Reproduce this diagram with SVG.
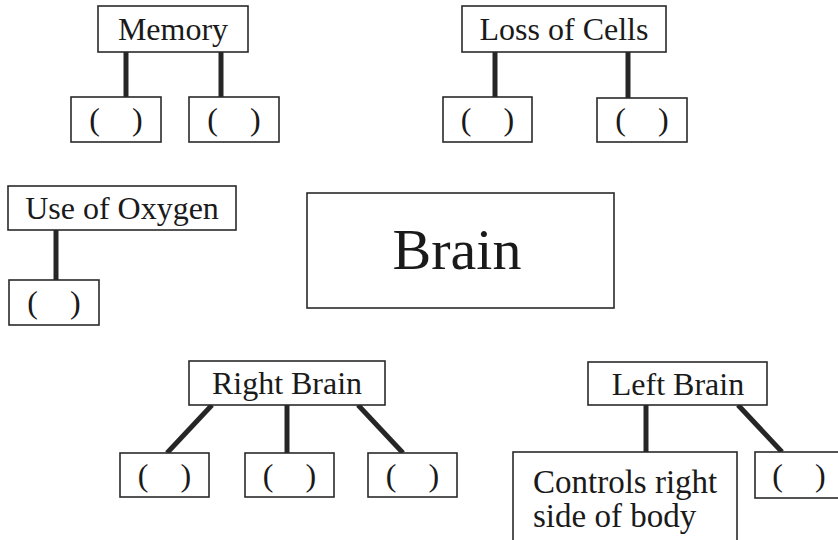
<svg xmlns="http://www.w3.org/2000/svg" width="838" height="540" viewBox="0 0 838 540">
<style>
rect.b{fill:#fff;stroke:#2a2a2a;stroke-width:1.6}
text{font-family:"Liberation Serif","DejaVu Serif",serif;font-size:32px;fill:#1a1a1a;text-anchor:middle}
text.p{white-space:pre}
text.big{font-size:58px}
text.l{text-anchor:start;font-size:33px}
#connectors line{stroke:#262626;stroke-width:5;stroke-linecap:butt}
</style>
<rect width="838" height="540" fill="#fff"/>
<g id="connectors">
<line x1="126" y1="52" x2="126" y2="97"/>
<line x1="221" y1="52" x2="221" y2="97"/>
<line x1="495" y1="52" x2="495" y2="97"/>
<line x1="628" y1="52" x2="628" y2="98"/>
<line x1="56" y1="230" x2="56" y2="280"/>
<line x1="212" y1="405" x2="167" y2="453"/>
<line x1="287" y1="405" x2="287" y2="453"/>
<line x1="358" y1="405" x2="403" y2="453"/>
<line x1="646" y1="405" x2="646" y2="452"/>
<line x1="738" y1="405" x2="782" y2="452"/>
</g>
<g id="memory"><rect class="b" x="98" y="6" width="150" height="46"/><text x="173" y="40">Memory</text></g>
<g id="memory-1"><rect class="b" x="71" y="97" width="90" height="45"/><text class="p" x="116" y="130">(    )</text></g>
<g id="memory-2"><rect class="b" x="189" y="97" width="90" height="45"/><text class="p" x="234" y="130">(    )</text></g>
<g id="loss"><rect class="b" x="462" y="6" width="204" height="46"/><text x="564" y="40">Loss of Cells</text></g>
<g id="loss-1"><rect class="b" x="443" y="97" width="89" height="45"/><text class="p" x="487.5" y="130">(    )</text></g>
<g id="loss-2"><rect class="b" x="597" y="98" width="90" height="44"/><text class="p" x="642" y="130">(    )</text></g>
<g id="oxygen"><rect class="b" x="8" y="186" width="228" height="44"/><text x="122" y="219">Use of Oxygen</text></g>
<g id="oxygen-1"><rect class="b" x="9" y="280" width="90" height="45"/><text class="p" x="54" y="313">(    )</text></g>
<g id="brain"><rect class="b" x="307" y="193" width="307" height="115"/><text class="big" x="457" y="269">Brain</text></g>
<g id="right"><rect class="b" x="189" y="361" width="196" height="44"/><text x="287" y="394">Right Brain</text></g>
<g id="right-1"><rect class="b" x="120" y="453" width="89" height="44"/><text class="p" x="164.5" y="486">(    )</text></g>
<g id="right-2"><rect class="b" x="245" y="453" width="89" height="44"/><text class="p" x="289.5" y="486">(    )</text></g>
<g id="right-3"><rect class="b" x="368" y="453" width="89" height="44"/><text class="p" x="412.5" y="486">(    )</text></g>
<g id="left"><rect class="b" x="588" y="362" width="179" height="43"/><text x="678" y="395">Left Brain</text></g>
<g id="left-1"><rect class="b" x="513" y="452" width="224" height="100"/><text class="l" x="533" y="493">Controls right</text><text class="l" x="533" y="527">side of body</text></g>
<g id="left-2"><rect class="b" x="755" y="452" width="95" height="46"/><text class="p" x="799" y="486">(    )</text></g>
</svg>
